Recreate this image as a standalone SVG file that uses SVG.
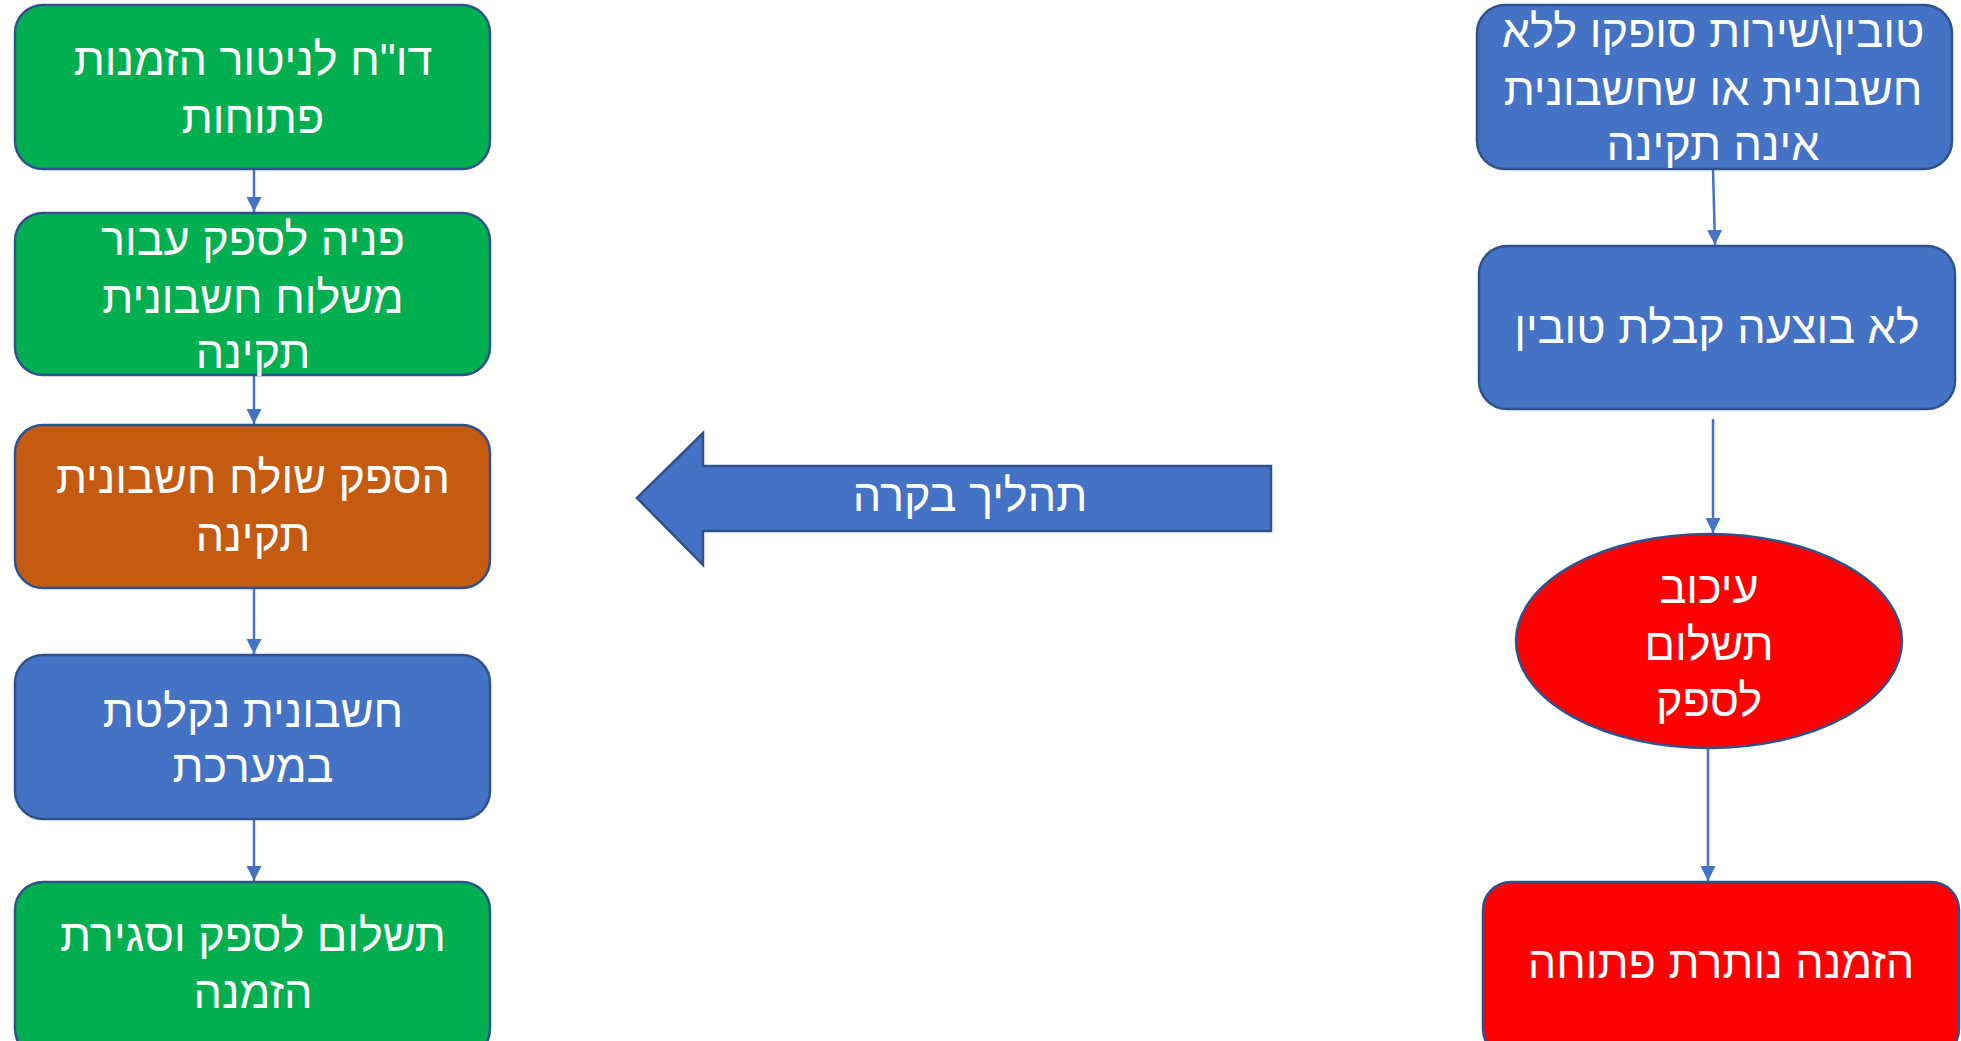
<svg xmlns="http://www.w3.org/2000/svg" width="1961" height="1041" viewBox="0 0 1961 1041">
<style>
.box{stroke:#2F528F;stroke-width:2.5}
.g{fill:#00B050}.o{fill:#C55A11}.b{fill:#4472C4}.r{fill:#FF0000}
text{font-family:"Liberation Sans","DejaVu Sans",sans-serif;font-size:45px;fill:#FFFFFF;text-anchor:middle}
.c{stroke:#4472C4;stroke-width:2.5;fill:none;marker-end:url(#ah)}
</style>
<defs>
<marker id="ah" viewBox="0 0 10 10" refX="10" refY="5" markerWidth="6" markerHeight="6" markerUnits="strokeWidth" orient="auto">
<path d="M0,0 L10,5 L0,10 Z" fill="#4472C4"/>
</marker>
</defs>
<rect width="1961" height="1041" fill="#FFFFFF"/>
<g id="connectors">
<line class="c" x1="254" y1="169" x2="254" y2="212"/>
<line class="c" x1="254" y1="375" x2="254" y2="424"/>
<line class="c" x1="254" y1="588" x2="254" y2="654"/>
<line class="c" x1="254" y1="819" x2="254" y2="881"/>
<line class="c" x1="1713" y1="169" x2="1715" y2="245"/>
<line class="c" x1="1713" y1="419" x2="1713" y2="533"/>
<line class="c" x1="1708" y1="748" x2="1708" y2="881"/>
</g>
<g id="n1">
<rect class="box g" x="15" y="5" width="475" height="164" rx="28"/>
<text x="253" y="75">דו"ח לניטור הזמנות</text>
<text x="253" y="133">פתוחות</text>
</g>
<g id="n2">
<rect class="box g" x="15" y="213" width="475" height="162" rx="28"/>
<text x="253" y="255">פניה לספק עבור</text>
<text x="253" y="313">משלוח חשבונית</text>
<text x="253" y="368">תקינה</text>
</g>
<g id="n3">
<rect class="box o" x="15" y="425" width="475" height="163" rx="28"/>
<text x="253" y="493">הספק שולח חשבונית</text>
<text x="253" y="551">תקינה</text>
</g>
<g id="n4">
<rect class="box b" x="15" y="655" width="475" height="164" rx="28"/>
<text x="253" y="727">חשבונית נקלטת</text>
<text x="253" y="782">במערכת</text>
</g>
<g id="n5">
<rect class="box g" x="15" y="882" width="475" height="175" rx="28"/>
<text x="253" y="951">תשלום לספק וסגירת</text>
<text x="253" y="1008">הזמנה</text>
</g>
<g id="r1">
<rect class="box b" x="1477" y="5" width="475" height="164" rx="28"/>
<text x="1713" y="47">טובין\שירות סופקו ללא</text>
<text x="1713" y="105">חשבונית או שחשבונית</text>
<text x="1713" y="160">אינה תקינה</text>
</g>
<g id="r2">
<rect class="box b" x="1479" y="246" width="476" height="163" rx="28"/>
<text x="1717" y="343">לא בוצעה קבלת טובין</text>
</g>
<g id="r3">
<ellipse class="box r" cx="1709" cy="641" rx="193" ry="107"/>
<text x="1709" y="603">עיכוב</text>
<text x="1709" y="660">תשלום</text>
<text x="1709" y="716">לספק</text>
</g>
<g id="r4">
<rect class="box r" x="1483" y="882" width="476" height="175" rx="28"/>
<text x="1721" y="978">הזמנה נותרת פתוחה</text>
</g>
<g id="control">
<polygon class="box b" points="637,498 703,433 703,466 1271,466 1271,531 703,531 703,565"/>
<text x="970" y="511">תהליך בקרה</text>
</g>
</svg>
